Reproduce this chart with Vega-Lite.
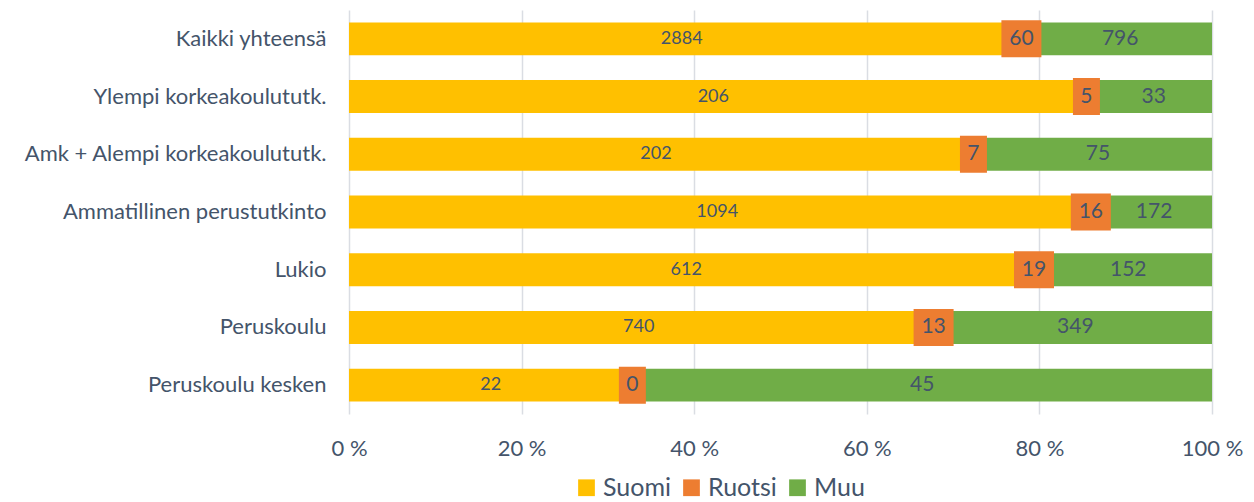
{
  "$schema": "https://vega.github.io/schema/vega-lite/v6.json",
  "width": 863,
  "height": 404,
  "autosize": {"type": "none"},
  "padding": {"left": 349, "top": 10, "right": 42, "bottom": 88},
  "background": "white",
  "config": {
    "view": {"stroke": null},
    "font": "Lato",
    "text": {"font": "Lato", "color": "#44546A"}
  },
  "data": {
    "values": [
      {"koulutus": "Kaikki yhteensä", "kieli": "Suomi", "n": 2884},
      {"koulutus": "Kaikki yhteensä", "kieli": "Ruotsi", "n": 60},
      {"koulutus": "Kaikki yhteensä", "kieli": "Muu", "n": 796},
      {"koulutus": "Ylempi korkeakoulututk.", "kieli": "Suomi", "n": 206},
      {"koulutus": "Ylempi korkeakoulututk.", "kieli": "Ruotsi", "n": 5},
      {"koulutus": "Ylempi korkeakoulututk.", "kieli": "Muu", "n": 33},
      {"koulutus": "Amk + Alempi korkeakoulututk.", "kieli": "Suomi", "n": 202},
      {"koulutus": "Amk + Alempi korkeakoulututk.", "kieli": "Ruotsi", "n": 7},
      {"koulutus": "Amk + Alempi korkeakoulututk.", "kieli": "Muu", "n": 75},
      {"koulutus": "Ammatillinen perustutkinto", "kieli": "Suomi", "n": 1094},
      {"koulutus": "Ammatillinen perustutkinto", "kieli": "Ruotsi", "n": 16},
      {"koulutus": "Ammatillinen perustutkinto", "kieli": "Muu", "n": 172},
      {"koulutus": "Lukio", "kieli": "Suomi", "n": 612},
      {"koulutus": "Lukio", "kieli": "Ruotsi", "n": 19},
      {"koulutus": "Lukio", "kieli": "Muu", "n": 152},
      {"koulutus": "Peruskoulu", "kieli": "Suomi", "n": 740},
      {"koulutus": "Peruskoulu", "kieli": "Ruotsi", "n": 13},
      {"koulutus": "Peruskoulu", "kieli": "Muu", "n": 349},
      {"koulutus": "Peruskoulu kesken", "kieli": "Suomi", "n": 22},
      {"koulutus": "Peruskoulu kesken", "kieli": "Ruotsi", "n": 0},
      {"koulutus": "Peruskoulu kesken", "kieli": "Muu", "n": 45}
    ]
  },
  "transform": [
    {"calculate": "indexof(['Suomi','Ruotsi','Muu'], datum.kieli)", "as": "jarj"},
    {"stack": "n", "groupby": ["koulutus"], "sort": [{"field": "jarj", "order": "ascending"}], "offset": "normalize", "as": ["x0", "x1"]},
    {"calculate": "(datum.x0 + datum.x1) / 2", "as": "xm"}
  ],
  "encoding": {
    "y": {
      "field": "koulutus",
      "type": "nominal",
      "sort": null,
      "title": null,
      "scale": {"paddingInner": 0.43, "paddingOuter": 0.215},
      "axis": {
        "domain": false,
        "ticks": false,
        "labelFontSize": 22,
        "labelColor": "#44546A",
        "labelPadding": 23,
        "labelFont": "Lato",
        "labelLimit": 400
      }
    }
  },
  "layer": [
    {
      "mark": {"type": "bar"},
      "encoding": {
        "x": {
          "field": "x0",
          "type": "quantitative",
          "scale": {"domain": [0, 1], "nice": false},
          "title": null,
          "axis": {
            "values": [0, 0.2, 0.4, 0.6, 0.8, 1],
            "labelExpr": "format(datum.value * 100, 'd') + ' %'",
            "labelFlush": false,
            "labelBound": false,
            "labelOverlap": false,
            "domain": false,
            "ticks": false,
            "grid": true,
            "gridColor": "#DADDE3",
            "gridWidth": 1.5,
            "labelFontSize": 22,
            "labelColor": "#44546A",
            "labelPadding": 24,
            "labelFont": "Lato"
          }
        },
        "x2": {"field": "x1"},
        "color": {
          "field": "kieli",
          "type": "nominal",
          "scale": {"domain": ["Suomi", "Ruotsi", "Muu"], "range": ["#FFC000", "#ED7D31", "#70AD47"]},
          "legend": {
            "title": null,
            "orient": "none",
            "legendX": 225,
            "legendY": 465,
            "direction": "horizontal",
            "symbolType": "square",
            "symbolSize": 280,
            "symbolStrokeWidth": 0,
            "labelFontSize": 25,
            "labelColor": "#44546A",
            "labelFont": "Lato",
            "labelOffset": 4,
            "columnPadding": 8
          }
        }
      }
    },
    {
      "transform": [{"filter": "datum.kieli === 'Suomi'"}],
      "mark": {"type": "text", "fontSize": 18, "baseline": "middle", "align": "center"},
      "encoding": {
        "x": {"field": "xm", "type": "quantitative"},
        "text": {"field": "n", "type": "quantitative"}
      }
    },
    {
      "transform": [{"filter": "datum.kieli === 'Muu'"}],
      "mark": {"type": "text", "fontSize": 21, "baseline": "middle", "align": "center"},
      "encoding": {
        "x": {"field": "xm", "type": "quantitative"},
        "text": {"field": "n", "type": "quantitative"}
      }
    },
    {
      "transform": [{"filter": "datum.kieli === 'Ruotsi'"}],
      "mark": {"type": "point", "filled": true, "opacity": 1, "color": "#ED7D31", "strokeWidth": 0},
      "encoding": {
        "x": {"field": "xm", "type": "quantitative"},
        "shape": {
          "condition": {"test": "datum.n < 10", "value": "M-0.675,-0.925H0.675V0.925H-0.675Z"},
          "value": "M-1,-0.925H1V0.925H-1Z"
        },
        "size": {"value": 1600}
      }
    },
    {
      "transform": [{"filter": "datum.kieli === 'Ruotsi'"}],
      "mark": {"type": "text", "fontSize": 21, "baseline": "middle", "align": "center"},
      "encoding": {
        "x": {"field": "xm", "type": "quantitative"},
        "text": {"field": "n", "type": "quantitative"}
      }
    }
  ]
}
